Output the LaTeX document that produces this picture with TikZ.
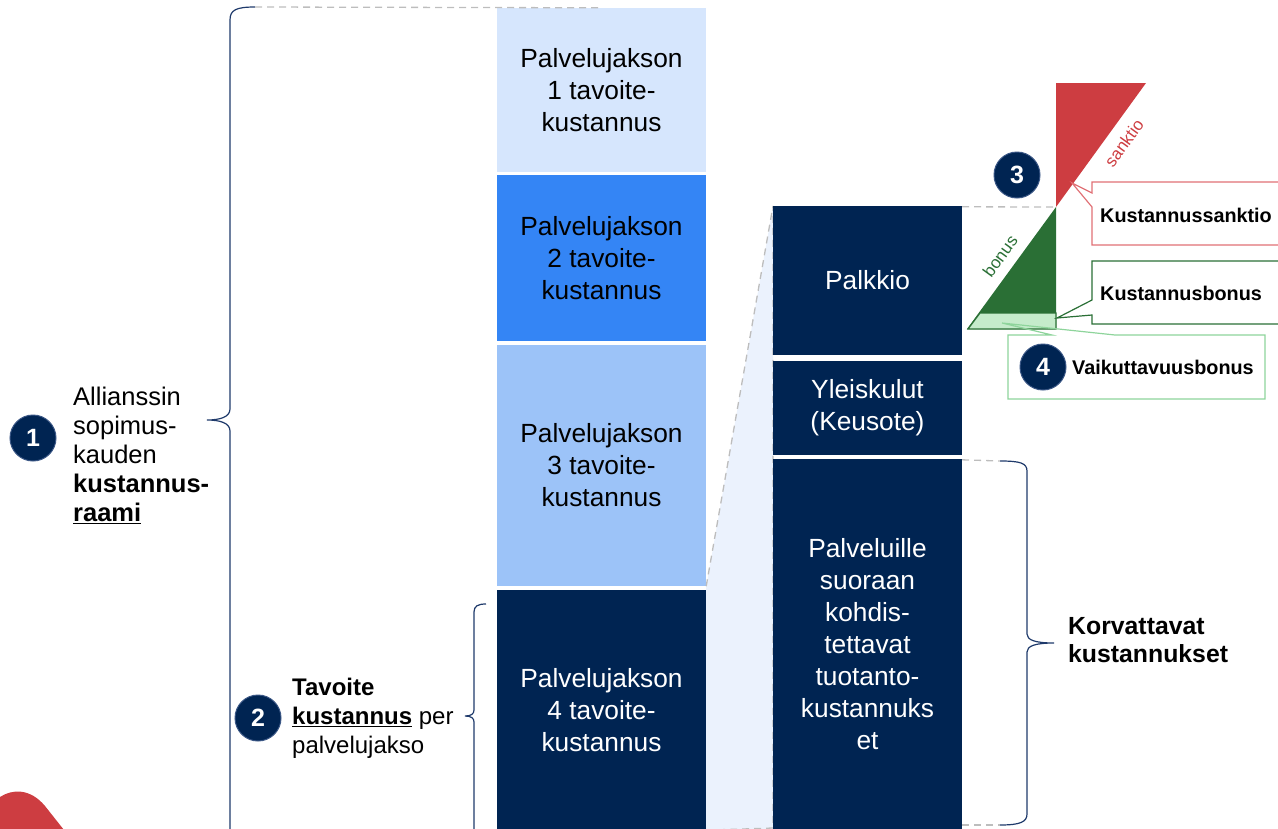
\documentclass[tikz,border=0pt]{standalone}
\usepackage{fontspec}
\setmainfont{Liberation Sans}
\definecolor{navy}{HTML}{002452}
\definecolor{navyedge}{HTML}{3A5685}
\definecolor{bracecol}{HTML}{1F3A6B}
\definecolor{cA}{HTML}{D6E6FD}
\definecolor{cB}{HTML}{3485F5}
\definecolor{cC}{HTML}{9CC3F8}
\definecolor{trap}{HTML}{EBF2FD}
\definecolor{redc}{HTML}{CD3D41}
\definecolor{redline}{HTML}{E07075}
\definecolor{greenc}{HTML}{2A6F35}
\definecolor{lgreen}{HTML}{C5EBCB}
\definecolor{lgline}{HTML}{8ED49B}
\definecolor{dashc}{HTML}{BDBDBD}
\begin{document}
\begin{tikzpicture}[x=1pt,y=-1pt,
  colbox/.style={inner sep=0pt, align=center, font=\fontsize{26.3}{32}\selectfont},
  darkbox/.style={colbox, fill=navy, text=white},
  num/.style={circle, fill=navy, draw=navyedge, line width=1pt, minimum size=46pt, inner sep=0pt, text=white, font=\fontsize{25}{25}\selectfont\bfseries},
  bracestyle/.style={draw=bracecol, line width=1.2pt},
  dashln/.style={draw=dashc, dashed, dash pattern=on 7pt off 5pt, line width=1.3pt},
  calltext/.style={anchor=west, inner sep=0pt, font=\fontsize{19.8}{22}\selectfont\bfseries},
  sidetext/.style={anchor=west, inner sep=0pt, align=left}
]
\useasboundingbox (0,0) rectangle (1278,828);
\clip (0,0) rectangle (1278,828);

% light trapezoid behind
\fill[trap] (706,588) -- (773,206) -- (773,830) -- (706,830) -- cycle;

% column 1
\node[colbox, fill=cA, minimum width=209pt, minimum height=164pt] (b1) at (601.5,90) {Palvelujakson\\1 tavoite-\\kustannus};
\node[colbox, fill=cB, minimum width=209pt, minimum height=166pt] (b2) at (601.5,258) {Palvelujakson\\2 tavoite-\\kustannus};
\node[colbox, fill=cC, minimum width=209pt, minimum height=241pt] (b3) at (601.5,465.5) {Palvelujakson\\3 tavoite-\\kustannus};
\node[darkbox, minimum width=209pt, minimum height=240pt] (b4) at (601.5,710) {Palvelujakson\\4 tavoite-\\kustannus};

% column 2
\draw[dashln] (b3.south east) -- (773,206) -- (773,828) -- (b4.south east);
\node[darkbox, minimum width=189pt, minimum height=149pt] (p1) at (867.5,280.5) {Palkkio};
\node[darkbox, minimum width=189pt, minimum height=94pt] (p2) at (867.5,408) {Yleiskulut\\(Keusote)};
\node[darkbox, minimum width=189pt, minimum height=371pt] (p3) at (867.5,644.5) {Palveluille\\suoraan\\kohdis-\\tettavat\\tuotanto-\\kustannuks\\et};

% braces
\coordinate (br1top) at (255,7);
\draw[bracestyle] (br1top) .. controls (236,7) and (230,10) .. (230,20) -- (230,409) .. controls (230,417) and (220,420) .. (207,420) .. controls (220,420) and (230,423) .. (230,431) -- (230,832);
\draw[dashln] (br1top) -- (b1.north);
\draw[bracestyle] (486,604) .. controls (478,604) and (474,606) .. (474,612) -- (474,710) .. controls (474,714) and (471,716) .. (465,716) .. controls (471,716) and (474,718) .. (474,722) -- (474,832);
\coordinate (br3top) at (1000,461);
\coordinate (br3bot) at (1000,825);
\draw[bracestyle] (br3top) .. controls (1020,461) and (1027,463) .. (1027,471) -- (1027,634) .. controls (1027,640) and (1035,643) .. (1054,643) .. controls (1035,643) and (1027,646) .. (1027,652) -- (1027,814) .. controls (1027,822) and (1020,825) .. (br3bot);
\draw[dashln] (p3.north east) ++(0,1) -- (br3top);
\draw[dashln] (962,825) -- (br3bot);

% triangles
\coordinate (apex) at (1056,207);
\fill[redc] (1056,83) -- (1146,83) -- (apex) -- cycle;
\fill[greenc] (apex) -- (1056,329) -- (967,329) -- cycle;
\filldraw[fill=lgreen, draw=greenc, line width=1.2pt] (980,313) -- (1056,313) -- (1056,329) -- (968,329) -- cycle;
\draw[dashln] (p1.north east) ++(0,1) -- (apex);
\node[text=redc, rotate=54, inner sep=0pt, font=\fontsize{17}{17}\selectfont] (sank) at (1124,143) {sanktio};
\node[text=greenc, rotate=54, inner sep=0pt, font=\fontsize{17}{17}\selectfont] (bon) at (1000,256) {bonus};

% callouts
\draw[redline, line width=1.2pt] (1092,182) -- (1290,182) -- (1290,245) -- (1092,245) -- (1092,207) -- (1072,183) -- (1092,193) -- cycle;
\node[calltext] (ks) at (1100,215) {Kustannussanktio};
\draw[greenc, line width=1.2pt] (1092,261) -- (1290,261) -- (1290,324) -- (1092,324) -- (1092,315) -- (1057,318) -- (1092,300) -- cycle;
\node[calltext] (kb) at (1100,293) {Kustannusbonus};
\draw[lgline, line width=1.2pt] (1008,335) -- (1052,335) -- (1002,323) -- (1115,335) -- (1265,335) -- (1265,399) -- (1008,399) -- cycle;
\node[calltext] (vb) at (1072,367) {Vaikuttavuusbonus};

% numbered circles
\node[num] (n1) at (33,438) {1};
\node[num] (n2) at (258,718) {2};
\node[num] (n3) at (1017,175) {3};
\node[num] (n4) at (1043,367) {4};

% side texts
\node[sidetext, font=\fontsize{25.5}{29}\selectfont] (t1) at (73,455) {Allianssin\\sopimus-\\kauden\\\textbf{kustannus-}\\\textbf{\underline{raami}}};
\node[sidetext, font=\fontsize{24}{29}\selectfont] (t2) at (292,718) {\textbf{Tavoite}\\\textbf{\underline{kustannus}} per\\palvelujakso};
\node[sidetext, font=\fontsize{24.8}{28}\selectfont\bfseries] (t3) at (1068,640) {Korvattavat\\kustannukset};

% red blob bottom-left
\fill[redc] (0,797) .. controls (12,789) and (30,788) .. (45,806) -- (64,830) -- (0,830) -- cycle;
\end{tikzpicture}
\end{document}
